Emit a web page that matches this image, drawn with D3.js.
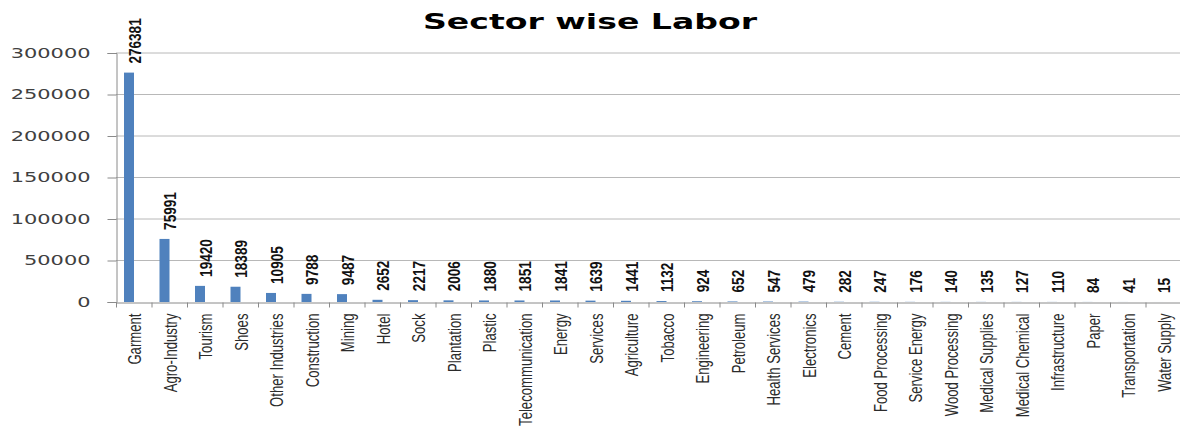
<!DOCTYPE html>
<html>
<head>
<meta charset="utf-8">
<script src="https://cdn.jsdelivr.net/npm/d3@7.9.0/dist/d3.min.js"></script>
<style>
  body { margin: 0; background: #fff; }
  svg { display: block; }
</style>
</head>
<body>
<svg width="1180" height="428"></svg>
<script>
// sectors and the number of workers in each
const sectors = ['Garment', 'Agro-Industry', 'Tourism', 'Shoes', 'Other Industries', 'Construction',
  'Mining', 'Hotel', 'Sock', 'Plantation', 'Plastic', 'Telecommunication', 'Energy', 'Services',
  'Agriculture', 'Tobacco', 'Engineering', 'Petroleum', 'Health Services', 'Electronics', 'Cement',
  'Food Processing', 'Service Energy', 'Wood Processing', 'Medical Supplies', 'Medical Chemical',
  'Infrastructure', 'Paper', 'Transportation', 'Water Supply'];
const labor = [276381, 75991, 19420, 18389, 10905, 9788, 9487, 2652, 2217, 2006, 1880, 1851, 1841,
  1639, 1441, 1132, 924, 652, 547, 479, 282, 247, 176, 140, 135, 127, 110, 84, 41, 15];
const yTicks = [0, 50000, 100000, 150000, 200000, 250000, 300000];

const svg = d3.select('svg');
// no narrow font installed, so squeeze Liberation Sans along the text direction
const sans = "'Liberation Sans', Arial, sans-serif";

let x = d3.scaleBand().domain(sectors).range([116, 1181]).padding(0);
let y = d3.scaleLinear().domain([0, 300000]).range([302, 53]);

// title
svg.append('text')
  .attr('x', 423).attr('y', 29)
  .attr('textLength', 334).attr('lengthAdjust', 'spacingAndGlyphs')
  .style('font-family', "'DejaVu Sans', Verdana, sans-serif")
  .style('font-weight', 'bold').style('font-size', '21px')
  .text('Sector wise Labor');

// gridlines
svg.append('g')
  .selectAll('line')
  .data(yTicks.slice(1))
  .join('line')
  .attr('x1', 116).attr('x2', 1180)
  .attr('y1', d => y(d)).attr('y2', d => y(d))
  .attr('stroke', '#b8b8b8').attr('stroke-width', 1);

// y axis
let yAxis = svg.append('g')
  .attr('transform', 'translate(116.5,0)')
  .call(d3.axisLeft(y).tickValues(yTicks).tickSize(9).tickPadding(0).tickFormat(d => d));
yAxis.select('.domain').attr('stroke', '#8a8a8a');
yAxis.selectAll('.tick line').attr('stroke', '#8a8a8a');
yAxis.selectAll('.tick text')
  .attr('x', -26)
  .attr('textLength', d => String(d).length * 13.3)
  .attr('lengthAdjust', 'spacingAndGlyphs')
  .style('font-family', "'DejaVu Sans', Verdana, sans-serif")
  .style('font-size', '14px')
  .attr('fill', '#404040');

// bars
svg.append('g')
  .selectAll('rect')
  .data(labor)
  .join('rect')
  .attr('x', (d, i) => x(sectors[i]) + 8)
  .attr('width', 10)
  .attr('y', d => y(d))
  .attr('height', d => y(0) - y(d))
  .attr('fill', '#4f81bd');

// value labels
svg.append('g')
  .selectAll('text')
  .data(labor)
  .join('text')
  .attr('transform', (d, i) => `translate(${x(sectors[i]) + 19},${y(d) - 9}) rotate(-90) scale(0.85,1)`)
  .attr('dy', '0.35em')
  .style('font-family', sans)
  .style('font-size', '16px')
  .style('font-weight', 'bold')
  .attr('fill', '#111')
  .text(d => d);

// x axis
let xAxis = svg.append('g')
  .attr('transform', 'translate(0,302.5)')
  .call(d3.axisBottom(x).tickSize(0).tickPadding(0));
xAxis.select('.domain').attr('stroke', '#8a8a8a');
xAxis.selectAll('.tick line').remove();
xAxis.selectAll('.tick text')
  .attr('transform', 'translate(1,11) rotate(-90) scale(0.73,1)')
  .attr('text-anchor', 'end')
  .attr('x', 0).attr('y', 0)
  .attr('dy', '0.35em')
  .style('font-family', sans)
  .style('font-size', '18px')
  .attr('fill', '#2b2b2b');

// category boundary ticks
xAxis.append('g')
  .selectAll('line')
  .data(sectors)
  .join('line')
  .attr('x1', d => x(d) + 0.5).attr('x2', d => x(d) + 0.5)
  .attr('y1', 0).attr('y2', 5)
  .attr('stroke', '#8a8a8a');
</script>
</body>
</html>
